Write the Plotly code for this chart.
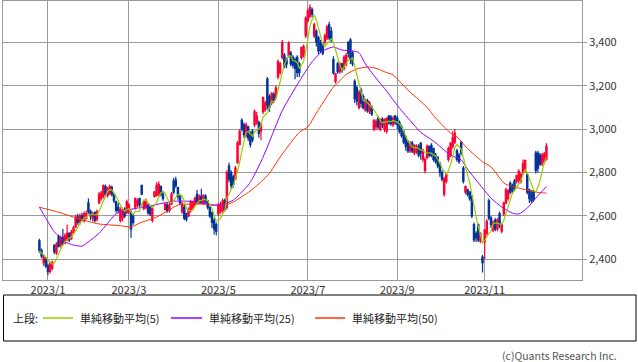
import pandas as pd
import plotly.graph_objects as go

# ---------------- data ----------------
holidays = ["2023-01-02", "2023-01-03", "2023-01-09", "2023-02-23", "2023-03-21",
            "2023-05-03", "2023-05-04", "2023-05-05", "2023-07-17", "2023-08-11",
            "2023-09-18", "2023-10-09", "2023-11-03", "2023-11-23"]
days = pd.bdate_range("2022-12-27", "2023-12-14")
dates = [d.strftime("%Y-%m-%d") for d in days if d.strftime("%Y-%m-%d") not in holidays]

opens = [2485, 2440, 2385, 2400, 2370, 2345, 2360, 2465, 2430, 2505, 2465, 2500, 2475, 2490, 2520, 2495,
         2525, 2550, 2595, 2570, 2600, 2580, 2590, 2660, 2620, 2590, 2615, 2585, 2660, 2680, 2690, 2735,
         2695, 2705, 2730, 2700, 2665, 2640, 2580, 2590, 2630, 2615, 2620, 2615, 2600, 2640, 2650, 2680,
         2740, 2635, 2640, 2650, 2640, 2580, 2690, 2695, 2700, 2735, 2700, 2630, 2650, 2625, 2655, 2760,
         2765, 2730, 2690, 2620, 2640, 2610, 2600, 2625, 2640, 2650, 2700, 2660, 2690, 2660, 2690, 2670,
         2640, 2615, 2580, 2560, 2610, 2620, 2625, 2670, 2640, 2830, 2800, 2780, 2770, 2845, 2930, 3040,
         3020, 2970, 3010, 2980, 2990, 3020, 3030, 3030, 2990, 3080, 3090, 3230, 3150, 3120, 3160, 3150,
         3240, 3260, 3330, 3340, 3320, 3340, 3350, 3330, 3320, 3330, 3300, 3330, 3340, 3430, 3500, 3520,
         3550, 3430, 3450, 3420, 3400, 3390, 3400, 3420, 3480, 3450, 3320, 3220, 3300, 3265, 3300, 3280,
         3300, 3400, 3410, 3350, 3220, 3190, 3100, 3180, 3150, 3090, 3130, 3080, 3100, 3000, 3010, 3050,
         3000, 3045, 3000, 2990, 3060, 3055, 3020, 3060, 3050, 3030, 3010, 2990, 2960, 2940, 2900, 2935,
         2890, 2895, 2920, 2935, 2860, 2810, 2870, 2920, 2925, 2910, 2880, 2870, 2840, 2800, 2700, 2760,
         2860, 2880, 2920, 2940, 2900, 2880, 2940, 2820, 2710, 2720, 2710, 2690, 2560, 2520, 2560, 2485,
         2410, 2480, 2520, 2670, 2590, 2535, 2580, 2540, 2610, 2530, 2610, 2660, 2680, 2750, 2740, 2760,
         2760, 2765, 2760, 2800, 2810, 2790, 2720, 2710, 2715, 2890, 2890, 2880, 2840, 2850, 2860]
highs = [2495, 2450, 2420, 2410, 2380, 2390, 2395, 2470, 2480, 2515, 2510, 2540, 2520, 2560, 2525, 2535,
         2555, 2605, 2610, 2610, 2615, 2620, 2625, 2680, 2630, 2620, 2620, 2630, 2710, 2715, 2745, 2745,
         2735, 2745, 2740, 2705, 2670, 2660, 2640, 2635, 2640, 2675, 2660, 2625, 2610, 2685, 2680, 2685,
         2745, 2675, 2680, 2655, 2645, 2640, 2715, 2755, 2760, 2740, 2710, 2660, 2660, 2660, 2710, 2775,
         2780, 2735, 2695, 2665, 2650, 2615, 2640, 2675, 2670, 2690, 2720, 2700, 2725, 2700, 2700, 2675,
         2645, 2620, 2590, 2570, 2660, 2665, 2680, 2680, 2810, 2845, 2810, 2790, 2830, 2945, 3000, 3050,
         3030, 3030, 3015, 2990, 3000, 3090, 3080, 3040, 3030, 3150, 3130, 3240, 3160, 3170, 3170, 3200,
         3320, 3310, 3410, 3350, 3330, 3405, 3360, 3340, 3330, 3340, 3310, 3380, 3390, 3520, 3555, 3575,
         3560, 3490, 3460, 3430, 3410, 3400, 3440, 3480, 3495, 3470, 3335, 3260, 3310, 3310, 3305, 3340,
         3350, 3405, 3420, 3360, 3230, 3200, 3180, 3190, 3160, 3140, 3140, 3130, 3110, 3045, 3045, 3060,
         3050, 3055, 3050, 3055, 3065, 3065, 3060, 3065, 3060, 3040, 3020, 2995, 2970, 2950, 2945, 2945,
         2930, 2930, 2930, 2940, 2910, 2870, 2930, 2925, 2935, 2915, 2890, 2875, 2850, 2810, 2780, 2800,
         2920, 2940, 2990, 3000, 2910, 2890, 2945, 2830, 2740, 2725, 2715, 2695, 2570, 2530, 2565, 2525,
         2420, 2540, 2585, 2680, 2600, 2580, 2590, 2590, 2620, 2565, 2665, 2730, 2725, 2760, 2750, 2770,
         2790, 2815, 2800, 2860, 2860, 2800, 2725, 2720, 2720, 2900, 2900, 2890, 2890, 2895, 2935]
lows = [2430, 2405, 2370, 2360, 2328, 2335, 2350, 2425, 2420, 2455, 2455, 2465, 2470, 2485, 2480, 2490,
        2520, 2545, 2560, 2560, 2575, 2570, 2585, 2610, 2580, 2575, 2570, 2575, 2655, 2670, 2680, 2690,
        2685, 2695, 2690, 2660, 2615, 2615, 2570, 2575, 2590, 2610, 2610, 2500, 2560, 2630, 2640, 2640,
        2695, 2625, 2630, 2605, 2600, 2570, 2685, 2690, 2690, 2690, 2670, 2625, 2615, 2615, 2650, 2700,
        2730, 2675, 2650, 2610, 2580, 2575, 2595, 2615, 2630, 2645, 2650, 2655, 2655, 2650, 2660, 2630,
        2590, 2545, 2515, 2510, 2600, 2610, 2615, 2620, 2630, 2755, 2725, 2730, 2765, 2840, 2925, 2990,
        2960, 2960, 2945, 2915, 2940, 3010, 3020, 2960, 2950, 3070, 3080, 3090, 3080, 3110, 3120, 3140,
        3230, 3250, 3320, 3280, 3280, 3330, 3290, 3280, 3230, 3240, 3240, 3320, 3330, 3420, 3490, 3510,
        3515, 3420, 3380, 3345, 3350, 3340, 3390, 3410, 3410, 3400, 3250, 3210, 3255, 3255, 3260, 3270,
        3290, 3330, 3300, 3290, 3120, 3110, 3090, 3100, 3090, 3080, 3075, 3070, 3060, 2990, 2995, 3000,
        2990, 3005, 2985, 2980, 3020, 3015, 3010, 3020, 3000, 2980, 2960, 2930, 2900, 2890, 2890, 2890,
        2880, 2885, 2870, 2860, 2850, 2795, 2860, 2870, 2870, 2850, 2840, 2820, 2780, 2760, 2690, 2750,
        2850, 2870, 2910, 2930, 2850, 2840, 2880, 2750, 2700, 2690, 2670, 2590, 2480, 2480, 2480, 2475,
        2340, 2400, 2510, 2580, 2545, 2525, 2530, 2530, 2545, 2520, 2600, 2655, 2670, 2700, 2705, 2715,
        2750, 2750, 2750, 2790, 2800, 2700, 2660, 2660, 2665, 2795, 2800, 2830, 2830, 2840, 2855]
closes = [2440, 2415, 2410, 2370, 2345, 2380, 2385, 2435, 2470, 2460, 2500, 2470, 2510, 2520, 2490, 2525,
          2545, 2595, 2570, 2600, 2580, 2610, 2612, 2620, 2600, 2610, 2580, 2620, 2700, 2705, 2740, 2700,
          2725, 2735, 2700, 2670, 2625, 2625, 2630, 2625, 2600, 2665, 2650, 2540, 2570, 2680, 2670, 2650,
          2700, 2665, 2670, 2615, 2610, 2635, 2710, 2740, 2745, 2700, 2680, 2655, 2625, 2650, 2700, 2710,
          2740, 2690, 2660, 2655, 2590, 2585, 2630, 2665, 2660, 2680, 2660, 2690, 2660, 2695, 2665, 2640,
          2600, 2570, 2540, 2530, 2650, 2655, 2670, 2630, 2800, 2770, 2740, 2745, 2820, 2935, 2990, 3000,
          2975, 3020, 2960, 2930, 2950, 3080, 3060, 2980, 3020, 3145, 3120, 3110, 3100, 3165, 3130, 3190,
          3310, 3300, 3400, 3290, 3300, 3395, 3300, 3295, 3280, 3260, 3260, 3375, 3380, 3510, 3545, 3560,
          3530, 3480, 3400, 3360, 3360, 3350, 3430, 3470, 3420, 3410, 3260, 3255, 3265, 3300, 3270, 3330,
          3340, 3350, 3320, 3300, 3140, 3130, 3170, 3120, 3100, 3130, 3085, 3120, 3070, 3040, 3035, 3010,
          3040, 3020, 3045, 3050, 3030, 3025, 3050, 3030, 3020, 2990, 2970, 2940, 2920, 2900, 2930, 2900,
          2925, 2920, 2880, 2890, 2905, 2860, 2920, 2880, 2880, 2860, 2850, 2830, 2800, 2770, 2770, 2790,
          2910, 2935, 2960, 2980, 2860, 2850, 2890, 2760, 2735, 2700, 2680, 2600, 2490, 2500, 2490, 2520,
          2385, 2535, 2575, 2590, 2560, 2570, 2540, 2580, 2560, 2560, 2660, 2720, 2715, 2710, 2715, 2725,
          2785, 2805, 2790, 2840, 2855, 2710, 2680, 2670, 2680, 2810, 2820, 2840, 2880, 2885, 2920]

# moving averages (index into dates, value)
ma25_idx = [0, 3, 7, 12, 16, 20, 23, 28, 32, 36, 41, 46, 52, 58, 63, 69, 75, 81, 86, 91, 94, 99,
            104, 107, 114, 122, 128, 133, 138, 142, 147, 150, 153, 158, 163, 166, 170, 174, 179, 185,
            193, 198, 201, 208, 212, 217, 222, 225, 229, 233, 238]
ma25_val = [2640, 2590, 2527, 2481, 2466, 2461, 2481, 2520, 2566, 2610, 2627, 2636, 2646, 2659, 2668,
            2668, 2664, 2650, 2652, 2673, 2700, 2755, 2850, 2918, 3085, 3220, 3310, 3360, 3378, 3364,
            3360, 3352, 3300, 3235, 3175, 3135, 3085, 3040, 2985, 2945, 2880, 2858, 2815, 2729, 2682,
            2641, 2613, 2609, 2636, 2682, 2735]
ma50_idx = [0, 8, 16, 22, 28, 38, 43, 47, 55, 60, 65, 75, 83, 88, 91, 99, 107, 114, 122, 126, 130,
            135, 138, 140, 144, 149, 154, 158, 163, 166, 169, 174, 177, 182, 185, 190, 193, 196, 201,
            208, 212, 218, 221, 227, 233, 238]
ma50_val = [2640, 2620, 2595, 2577, 2563, 2555, 2549, 2567, 2595, 2622, 2650, 2655, 2650, 2652, 2664,
            2715, 2785, 2885, 2985, 3010, 3074, 3150, 3194, 3212, 3252, 3277, 3286, 3280, 3260, 3250,
            3220, 3170, 3145, 3100, 3062, 3010, 2982, 2964, 2910, 2850, 2826, 2752, 2738, 2724, 2710,
            2705]

tick_dates = ["2023-01-04", "2023-03-01", "2023-05-01", "2023-07-03", "2023-09-01", "2023-11-01"]
tick_text = ["2023/1", "2023/3", "2023/5", "2023/7", "2023/9", "2023/11"]
y_ticks = [2400, 2600, 2800, 3000, 3200, 3400]

legend_prefix = "上段:"
legend_names = ["単純移動平均(5)", "単純移動平均(25)", "単純移動平均(50)"]
copyright_text = "(c)Quants Research Inc."

# ---------------- figure ----------------
C_UP, C_DN = "#ff0033", "#003399"
C5, C25, C50 = "#99cc00", "#9900ff", "#ff3300"
GRID = "#9a9a9a"
FONT = "Noto Sans CJK JP"

ma5 = pd.Series(closes).rolling(5, min_periods=1).mean().tolist()

fig = go.Figure()
fig.add_trace(go.Candlestick(
    x=dates, open=opens, high=highs, low=lows, close=closes,
    increasing=dict(line=dict(color=C_UP, width=1.2), fillcolor=C_UP),
    decreasing=dict(line=dict(color=C_DN, width=1.2), fillcolor=C_DN),
    whiskerwidth=0, hoverinfo="skip", showlegend=False))
fig.add_trace(go.Scatter(x=[dates[i] for i in ma50_idx], y=ma50_val, mode="lines",
                         line=dict(color=C50, width=1, shape="spline", smoothing=0.6),
                         hoverinfo="skip", showlegend=False))
fig.add_trace(go.Scatter(x=[dates[i] for i in ma25_idx], y=ma25_val, mode="lines",
                         line=dict(color=C25, width=1, shape="spline", smoothing=0.6),
                         hoverinfo="skip", showlegend=False))
fig.add_trace(go.Scatter(x=dates, y=ma5, mode="lines",
                         line=dict(color=C5, width=1.2),
                         hoverinfo="skip", showlegend=False))

W, H = 638, 362
L, R, T, B = 3, 56, 1, 82
pw, ph = W - L - R, H - T - B


def px(x):
    return (x - L) / pw


def py(y):
    return (H - B - y) / ph


fig.update_layout(
    width=W, height=H, autosize=False,
    margin=dict(l=L, r=R, t=T, b=B),
    paper_bgcolor="white", plot_bgcolor="white",
    font=dict(family=FONT, size=11, color="#333333"),
    showlegend=False, boxgap=0.15,
    xaxis=dict(type="category", range=[-17.1, 254.7], rangeslider=dict(visible=False),
               tickvals=tick_dates, ticktext=tick_text, showgrid=True, gridcolor=GRID, gridwidth=1,
               showline=True, linecolor=GRID, linewidth=1, mirror=True, ticks="",
               tickfont=dict(size=11, color="#333333"), zeroline=False, fixedrange=True),
    yaxis=dict(side="right", range=[2305, 3590], tickvals=y_ticks,
               ticktext=[f"{v:,}" for v in y_ticks], showgrid=True, gridcolor=GRID, gridwidth=1,
               showline=True, linecolor=GRID, linewidth=1, mirror=True, ticks="outside",
               ticklen=4, tickcolor=GRID, tickfont=dict(size=11, color="#333333"),
               zeroline=False, fixedrange=True),
)

shapes = [dict(type="rect", xref="paper", yref="paper", x0=px(3.5), x1=px(636), y0=py(295), y1=py(341),
               line=dict(color="black", width=1), fillcolor="rgba(0,0,0,0)")]
annotations = [dict(xref="paper", yref="paper", x=px(11), y=py(318), text=legend_prefix, showarrow=False,
                    xanchor="left", yanchor="middle", font=dict(family=FONT, size=11, color="#222222"))]
legend_pos = [(43, 73, 78), (171, 202, 207), (315, 345, 350)]
for (a, b, t), name, col in zip(legend_pos, legend_names, [C5, C25, C50]):
    shapes.append(dict(type="line", xref="paper", yref="paper", x0=px(a), x1=px(b), y0=py(318), y1=py(318),
                       line=dict(color=col, width=1.5)))
    annotations.append(dict(xref="paper", yref="paper", x=px(t), y=py(318), text=name, showarrow=False,
                            xanchor="left", yanchor="middle",
                            font=dict(family=FONT, size=11, color="#222222")))
annotations.append(dict(xref="paper", yref="paper", x=px(619), y=py(355), text=copyright_text,
                        showarrow=False, xanchor="right", yanchor="middle",
                        font=dict(family=FONT, size=10.5, color="#555555")))
fig.update_layout(shapes=shapes, annotations=annotations)

fig.write_html("out.html", config=dict(displayModeBar=False, staticPlot=True),
               post_script="document.body.style.margin='0px';document.body.style.padding='0px';"
                           "document.body.style.overflow='hidden';")
